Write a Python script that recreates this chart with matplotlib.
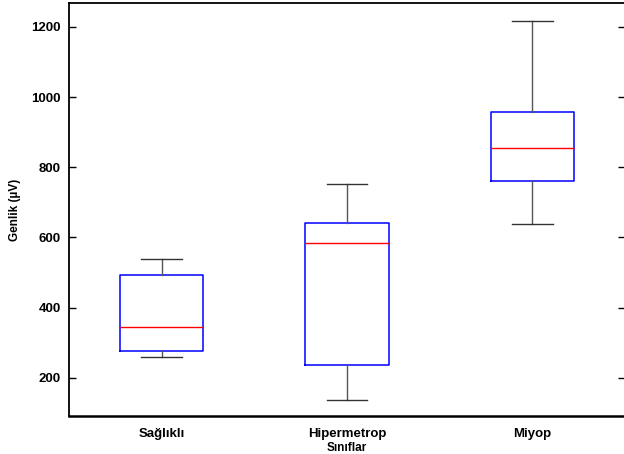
import matplotlib
matplotlib.use("Agg")
import matplotlib.pyplot as plt

categories = ["Sağlıklı", "Hipermetrop", "Miyop"]
whisker_low = [258, 137, 637]
q1 = [277, 236, 760]
median = [345, 583, 856]
q3 = [492, 642, 956]
whisker_high = [539, 752, 1218]
yticks = [200, 400, 600, 800, 1000, 1200]

plt.rcParams['font.family'] = ['Liberation Sans', 'DejaVu Sans']
fig = plt.figure(figsize=(6.24, 4.54), dpi=100)
ax = fig.add_axes([69/624, 38/454, 556/624, 413/454])

stats = []
for i, c in enumerate(categories):
    stats.append(dict(label=c, whislo=whisker_low[i], q1=q1[i], med=median[i],
                      q3=q3[i], whishi=whisker_high[i], fliers=[]))
positions = list(range(1, len(categories) + 1))
ax.bxp(stats, positions=positions, widths=0.45, showfliers=False,
       boxprops=dict(color='blue', linewidth=1.1),
       medianprops=dict(color='red', linewidth=1.0),
       whiskerprops=dict(color='#555555', linewidth=1.0),
       capprops=dict(color='#333333', linewidth=1.0),
       capwidths=0.22)

ax.set_xlim(0.5, 3.5)
ax.set_ylim(91, 1268)
ax.set_yticks(yticks)
ax.set_yticklabels([str(t) for t in yticks], fontsize=9.5, fontweight='bold')
ax.set_xticks(positions)
ax.set_xticklabels(categories, fontsize=9.5, fontweight='bold')
ax.tick_params(axis='x', length=0, pad=9)
ax.tick_params(axis='y', direction='in', length=5, width=1, right=True, pad=6)
ax.set_ylabel("Genlik (µV)", fontsize=8.5, fontweight='bold', va='center')
ax.yaxis.set_label_coords(-0.097, 0.5)
ax.set_xlabel("Sınıflar", fontsize=8.5, fontweight='bold', va='center')
ax.xaxis.set_label_coords(0.5, -0.077)
for s in ['left', 'top']:
    ax.spines[s].set_linewidth(1.3)
ax.spines['bottom'].set_linewidth(1.8)
ax.spines['right'].set_visible(False)

fig.savefig("out.png", dpi=100)
